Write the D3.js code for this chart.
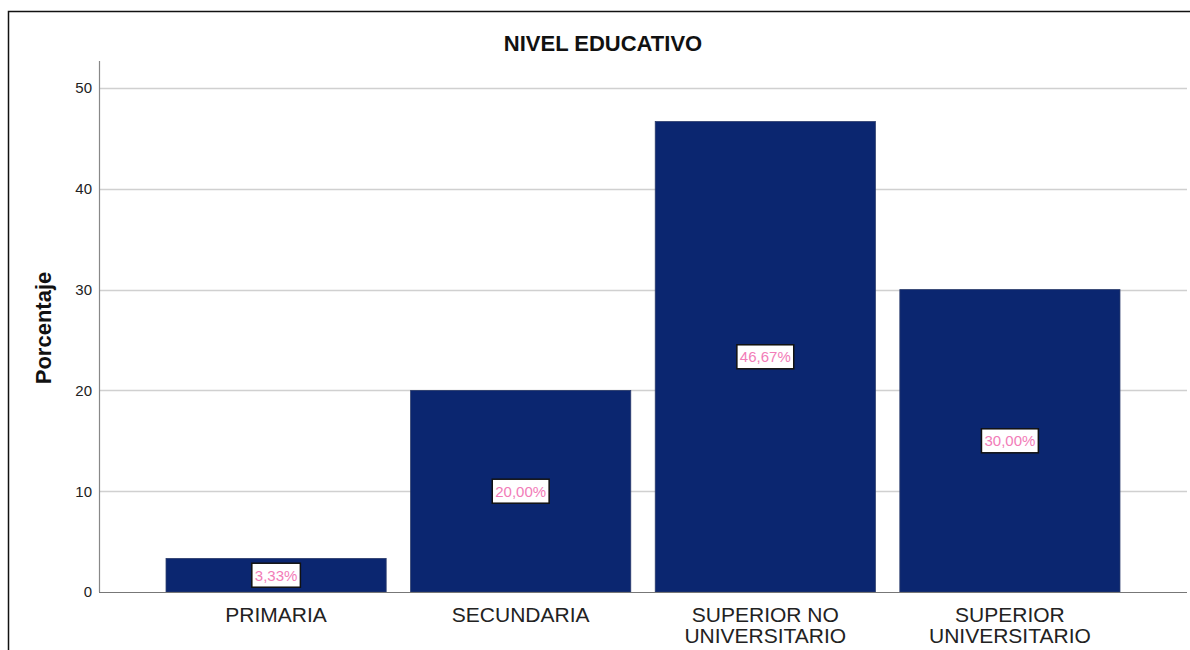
<!DOCTYPE html>
<html>
<head>
<meta charset="utf-8">
<script src="https://cdn.jsdelivr.net/npm/d3@7"></script>
<style>
  html, body { margin: 0; padding: 0; background: #fff; }
  svg { display: block; font-family: Arial, "Liberation Sans", sans-serif; }
</style>
</head>
<body>
<svg id="chart" width="1190" height="650"></svg>
<script>
// Education level distribution (percent of respondents)
const categories = [["PRIMARIA"], ["SECUNDARIA"], ["SUPERIOR NO", "UNIVERSITARIO"], ["SUPERIOR", "UNIVERSITARIO"]];
const percentages = [3.33, 20.00, 46.67, 30.00];
const yTicks = [0, 10, 20, 30, 40, 50];
const chartTitle = "NIVEL EDUCATIVO";
const yTitle = "Porcentaje";

const svg = d3.select("#chart");
const plot = { left: 99, right: 1187, top: 61, bottom: 592 };

// Outer frame (top and left edges visible)
svg.append("path")
  .attr("d", "M8.5,650 V11.5 H1190")
  .attr("fill", "none")
  .attr("stroke", "#111")
  .attr("stroke-width", 1.5);

const keys = categories.map(c => c.join(" "));
const x = d3.scaleBand()
  .domain(keys)
  .range([plot.left, plot.right])
  .paddingInner(0.1)
  .paddingOuter(0.274);

const y = d3.scaleLinear()
  .domain([0, 50])
  .range([plot.bottom, 88]);

// Horizontal gridlines
svg.append("g")
  .selectAll("line")
  .data(yTicks.filter(t => t > 0))
  .join("line")
  .attr("x1", plot.left)
  .attr("x2", plot.right)
  .attr("y1", d => Math.round(y(d)) + 0.5)
  .attr("y2", d => Math.round(y(d)) + 0.5)
  .attr("stroke", "#d0d0d0")
  .attr("stroke-width", 1.5);

// Y axis
const yAxis = svg.append("g")
  .attr("transform", `translate(${plot.left},0)`)
  .call(d3.axisLeft(y).tickValues(yTicks).tickSize(0).tickPadding(7).tickFormat(d3.format("d")));
yAxis.select(".domain").remove();
yAxis.selectAll("text")
  .attr("font-size", 15)
  .attr("fill", "#222")
  .attr("font-family", "Arial, 'Liberation Sans', sans-serif");

svg.append("line")
  .attr("x1", plot.left + 0.5).attr("x2", plot.left + 0.5)
  .attr("y1", plot.top).attr("y2", plot.bottom)
  .attr("stroke", "#888").attr("stroke-width", 1.2);

// Bars
const data = keys.map((k, i) => ({ key: k, lines: categories[i], value: percentages[i] }));

svg.append("g")
  .selectAll("rect")
  .data(data)
  .join("rect")
  .attr("x", d => x(d.key))
  .attr("y", d => y(d.value))
  .attr("width", x.bandwidth())
  .attr("height", d => y(0) - y(d.value))
  .attr("fill", "#0b2670")
  .attr("stroke", "#2a3a6a")
  .attr("stroke-width", 0.8);

// X baseline
svg.append("line")
  .attr("x1", plot.left).attr("x2", plot.right)
  .attr("y1", plot.bottom + 0.5).attr("y2", plot.bottom + 0.5)
  .attr("stroke", "#777").attr("stroke-width", 1.2);

// Value labels in boxes, centred in each bar
const fmt = v => v.toFixed(2).replace(".", ",") + "%";
const labels = svg.append("g")
  .selectAll("g")
  .data(data)
  .join("g")
  .attr("transform", d => `translate(${x(d.key) + x.bandwidth() / 2},${(y(d.value) + y(0)) / 2})`);

labels.append("text")
  .attr("text-anchor", "middle")
  .attr("dy", "0.36em")
  .attr("font-size", 15)
  .attr("fill", "#f27cb8")
  .text(d => fmt(d.value))
  .each(function () {
    const b = this.getBBox();
    d3.select(this.parentNode).insert("rect", "text")
      .attr("x", b.x - 3)
      .attr("y", -12)
      .attr("width", b.width + 6)
      .attr("height", 24)
      .attr("fill", "#fff")
      .attr("stroke", "#111")
      .attr("stroke-width", 1.5);
  });

// Category labels
const cat = svg.append("g")
  .selectAll("text")
  .data(data)
  .join("text")
  .attr("text-anchor", "middle")
  .attr("font-size", 21)
  .attr("fill", "#222")
  .attr("x", d => x(d.key) + x.bandwidth() / 2)
  .attr("y", 622);
cat.selectAll("tspan")
  .data(d => d.lines)
  .join("tspan")
  .attr("x", function () { return d3.select(this.parentNode).attr("x"); })
  .attr("dy", (d, i) => i === 0 ? 0 : 21)
  .text(d => d);

// Titles
svg.append("text")
  .attr("x", 603)
  .attr("y", 51)
  .attr("text-anchor", "middle")
  .attr("font-size", 22)
  .attr("font-weight", "bold")
  .attr("fill", "#111")
  .text(chartTitle);

svg.append("text")
  .attr("transform", "translate(51,328) rotate(-90)")
  .attr("text-anchor", "middle")
  .attr("font-size", 22)
  .attr("font-weight", "bold")
  .attr("fill", "#111")
  .text(yTitle);
</script>
</body>
</html>
